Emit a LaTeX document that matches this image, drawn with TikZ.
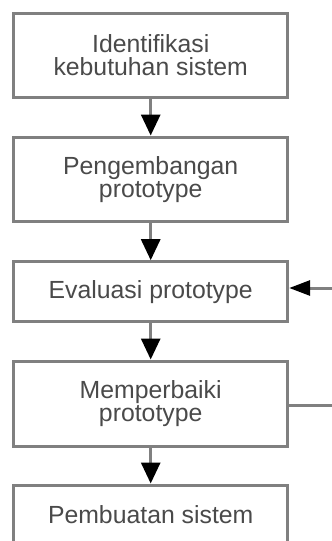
\documentclass[tikz,border=0pt]{standalone}
\usepackage{fontspec}
\setmainfont{Liberation Sans}
\usetikzlibrary{arrows.meta}
\definecolor{boxline}{HTML}{808080}
\definecolor{txt}{HTML}{4A4A4A}
\begin{document}
\begin{tikzpicture}[x=1pt,y=-1pt,
  box/.style={draw=boxline,line width=3pt,fill=white,minimum width=274pt,
    inner sep=0pt,align=center,text=txt,
    font=\fontsize{24.8}{23.4}\selectfont},
  flow/.style={draw=boxline,line width=3pt,
    -{Triangle[length=21pt,width=19pt,color=black]}},
  fback/.style={draw=boxline,line width=3pt,
    -{Triangle[length=21pt,width=15pt,color=black]}}]
\useasboundingbox (0,0) rectangle (332,541);
\clip (0,0) rectangle (332,541);
\fill[white] (0,0) rectangle (332,541);
\node[box,minimum height=84.7pt] (b1) at (150.7,55.4) {Identifikasi\\kebutuhan sistem};
\node[box,minimum height=84.7pt] (b2) at (150.7,179.4) {Pengembangan\\prototype};
\node[box,minimum height=60pt] (b3) at (150.7,291.7) {Evaluasi prototype};
\node[box,minimum height=85pt] (b4) at (150.7,403.5) {Memperbaiki\\prototype};
\node[box,minimum height=60pt] (b5) at (150.7,515) {Pembuatan sistem};
\draw[flow] (b1) -- (b2);
\draw[flow] (b2) -- (b3);
\draw[flow] (b3) -- (b4);
\draw[flow] (b4) -- (b5);
\coordinate (r4) at (345,405);
\coordinate (r3) at (345,288);
\draw[fback] (b4.east |- r4) -- (r4) -- (r3) -- (b3.east |- r3);
\end{tikzpicture}
\end{document}
